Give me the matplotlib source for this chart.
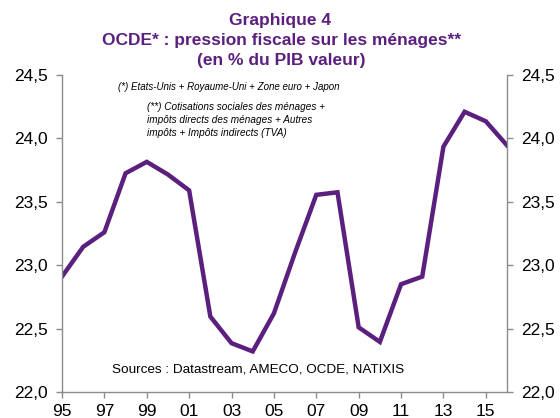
import matplotlib
matplotlib.use("Agg")
import matplotlib.pyplot as plt

years = list(range(1995, 2017))
values = [22.91, 23.145, 23.26, 23.725, 23.815, 23.715, 23.59, 22.595, 22.385, 22.32,
          22.62, 23.1, 23.555, 23.575, 22.51, 22.395, 22.85, 22.91, 23.935, 24.21,
          24.135, 23.945]
xticks = list(range(1995, 2016, 2))
xticklabels = ["95", "97", "99", "01", "03", "05", "07", "09", "11", "13", "15"]
yticks = [22.0, 22.5, 23.0, 23.5, 24.0, 24.5]
yticklabels = ["22,0", "22,5", "23,0", "23,5", "24,0", "24,5"]

plt.rcParams['font.family'] = ['Liberation Sans', 'DejaVu Sans']
purple = "#5B1F7E"
grey = "#8C8C8C"

fig = plt.figure(figsize=(5.6, 4.18), dpi=100)
ax = fig.add_axes([62/560, 1-392/418, (507-62)/560, (392-75)/418])
ax.plot(years, values, color=purple, lw=3.2, solid_joinstyle='miter')
ax.set_xlim(1995, 2016)
ax.set_ylim(22.0, 24.5)
ax.set_xticks(xticks)
ax.set_xticklabels(xticklabels, fontsize=12.5)
ax.set_yticks(yticks)
ax.set_yticklabels(yticklabels, fontsize=12.5)
ax.spines['top'].set_visible(False)
for s in ['left', 'right', 'bottom']:
    ax.spines[s].set_color(grey)
    ax.spines[s].set_linewidth(1.0)
ax.tick_params(axis='both', direction='out', length=4, color=grey, width=1.0, pad=6)
ax.tick_params(axis='x', pad=5)
ax.tick_params(axis='y', which='both', left=True, right=True, labelleft=True, labelright=True)

fig.text(280/560, 1-20/418, "Graphique 4", ha='center', va='center', color=purple,
         fontsize=12.5, fontweight='bold')
fig.text(281/560, 1-40/418, "OCDE* : pression fiscale sur les ménages**", ha='center',
         va='center', color=purple, fontsize=12.5, fontweight='bold')
fig.text(281/560, 1-60/418, "(en % du PIB valeur)", ha='center', va='center',
         color=purple, fontsize=12.5, fontweight='bold')

fig.text(118/560, 1-87/418, "(*) Etats-Unis + Royaume-Uni + Zone euro + Japon",
         ha='left', va='center', fontsize=7.0, style='italic')
fig.text(147/560, 1-102/418, "(**) Cotisations sociales des ménages +\nimpôts directs des ménages + Autres\nimpôts + Impôts indirects (TVA)",
         ha='left', va='top', fontsize=7.2, style='italic', linespacing=1.35)
fig.text(112/560, 1-370/418, "Sources : Datastream, AMECO, OCDE, NATIXIS",
         ha='left', va='center', fontsize=9.7)

fig.savefig("out.png", dpi=100)
